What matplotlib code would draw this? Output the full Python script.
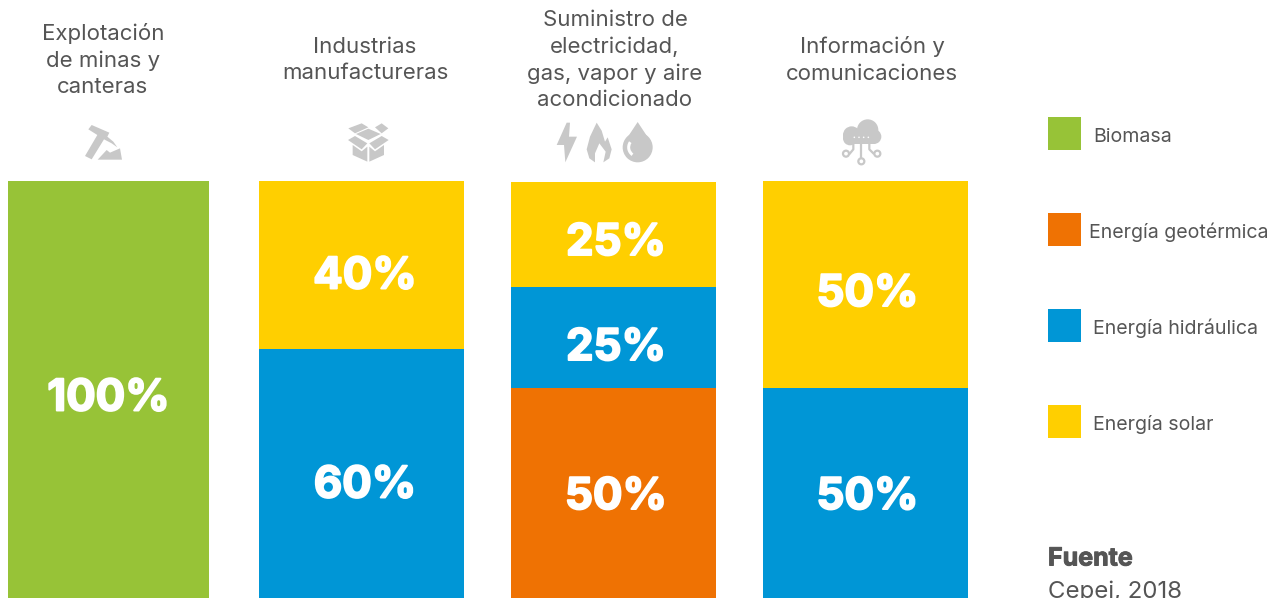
import matplotlib
matplotlib.use('Agg')
import matplotlib.pyplot as plt
import matplotlib.patheffects as pe
from matplotlib.patches import Polygon, Circle, Rectangle, Wedge
from matplotlib.lines import Line2D
from matplotlib.transforms import ScaledTranslation

W, H = 1280, 598
FONT = 'Inter'

sectors = ['Explotación\nde minas y\ncanteras', 'Industrias\nmanufactureras',
           'Suministro de\nelectricidad,\ngas, vapor y aire\nacondicionado',
           'Información y\ncomunicaciones']
sources = ['Biomasa', 'Energía geotérmica', 'Energía hidráulica', 'Energía solar']
colors = ['#97C337', '#EF7203', '#0096D6', '#FFCF00']

# segment heights, bottom to top (the original is not quite to scale)
biomasa = [100, 0, 0, 0]
geotermica = [0, 0, 50.7, 0]
hidraulica = [0, 60, 24.06, 50.7]
solar = [0, 40, 25, 49.3]
series = [biomasa, geotermica, hidraulica, solar]

# printed labels
lab_biomasa = ['100%', '', '', '']
lab_geotermica = ['', '', '50%', '']
lab_hidraulica = ['', '60%', '25%', '50%']
lab_solar = ['', '40%', '25%', '50%']
labels = [lab_biomasa, lab_geotermica, lab_hidraulica, lab_solar]

bar_left = [8, 259, 511, 763]
bar_width = [201, 205, 205, 205]

# nudges for the printed labels, px
dx_col = [0, 3.5, 2.5, 2]
dy_biomasa = [8, 0, 0, 0]
dy_geotermica = [0, 0, 3, 0]
dy_hidraulica = [0, 11, 11, 3]
dy_solar = [0, 12, 9, 10]
dys = [dy_biomasa, dy_geotermica, dy_hidraulica, dy_solar]

fig = plt.figure(figsize=(W / 100, H / 100), dpi=100)

# bars run below the bottom edge of the image, 0 sits at y=601 px and 100 at y=181 px
ax = fig.add_axes([0, (H - 601) / H, 1, 420 / H])
ax.set_xlim(0, W)
ax.set_ylim(0, 100)
ax.axis('off')

bottom = [0, 0, 0, 0]
for vals, labs, col, dy in zip(series, labels, colors, dys):
    for i in range(len(vals)):
        if vals[i] == 0:
            continue
        ax.bar(bar_left[i], vals[i], width=bar_width[i], bottom=bottom[i], align='edge', color=col, linewidth=0)
        shift = ScaledTranslation(dx_col[i] / 100, -dy[i] / 100, fig.dpi_scale_trans)
        t = ax.text(bar_left[i] + bar_width[i] / 2, bottom[i] + vals[i] / 2, labs[i], color='white', fontsize=31.5,
                    fontweight='bold', family=FONT, ha='center', va='center', transform=ax.transData + shift)
        t.set_path_effects([pe.withStroke(linewidth=1.4, foreground='white')])
        bottom[i] += vals[i]

# overlay in pixel coordinates for titles, icons and legend
ov = fig.add_axes([0, 0, 1, 1])
ov.set_xlim(0, W)
ov.set_ylim(H, 0)
ov.axis('off')
ov.patch.set_alpha(0)

TXT = '#555555'
GREY = '#C8C8C8'
centers = [103, 365, 615, 872]
for c, s in zip(centers, sectors):
    ov.text(c, 60, s, ha='center', va='center', fontsize=16, color=TXT, family=FONT, linespacing=1.4)


def poly(pts, ox, oy, col=GREY):
    ov.add_patch(Polygon([(ox + x / 3, oy + y / 3) for x, y in pts], closed=True, fc=col, ec='none'))


# pick and mountain
poly([(95, 45), (148, 68), (142, 80), (160, 95), (172, 112), (155, 100), (132, 88), (95, 148), (75, 138), (112, 75), (85, 58)], 60, 110)
poly([(113, 149), (140, 120), (150, 128), (180, 115), (186, 149)], 60, 110)
# box
poly([(865, 55), (905, 40), (925, 52), (885, 70)], 60, 110)
poly([(985, 55), (965, 40), (945, 52), (965, 70)], 60, 110)
poly([(888, 72), (925, 56), (962, 72), (925, 90)], 60, 110)
poly([(864, 90), (885, 78), (922, 100), (905, 118)], 60, 110)
poly([(986, 90), (965, 78), (928, 100), (945, 118)], 60, 110)
poly([(878, 105), (905, 124), (922, 110), (922, 155), (878, 135)], 60, 110)
poly([(972, 105), (945, 124), (928, 110), (928, 155), (972, 135)], 60, 110)
# lightning
poly([(80, 38), (50, 105), (72, 105), (76, 157), (111, 80), (87, 80), (90, 38)], 540, 110)
# flame
poly([(170, 38), (185, 62), (195, 95), (203, 82), (215, 118), (208, 145), (190, 157), (197, 125), (178, 100),
      (165, 130), (165, 157), (148, 145), (140, 118), (150, 80)], 540, 110)
# drop
poly([(293, 36), (254, 95), (332, 95)], 540, 110)
ov.add_patch(Circle((540 + 293 / 3, 110 + 112 / 3), 15, fc=GREY, ec='none'))
ov.add_patch(Wedge((540 + 293 / 3, 110 + 112 / 3), 10.5, 125, 215, width=3, fc='white', ec='none'))
# cloud
cloud = [(935, 75, 26), (983, 60, 32), (1002, 80, 22), (930, 85, 21)]
for cx, cy, r in cloud:
    ov.add_patch(Circle((540 + cx / 3, 110 + cy / 3), r / 3, fc=GREY, ec='none'))
ov.add_patch(Rectangle((540 + 925 / 3, 110 + 65 / 3), 80 / 3, 36 / 3, fc=GREY, ec='none'))
for dx in [943, 957, 971, 985]:
    ov.add_patch(Circle((540 + dx / 3, 110 + 82 / 3), 0.8, fc='white', ec='none'))
for path in [[(963, 100), (963, 142)], [(940, 100), (940, 118), (930, 130)], [(988, 100), (988, 118), (1000, 130)]]:
    ov.add_line(Line2D([540 + x / 3 for x, y in path], [110 + y / 3 for x, y in path], color=GREY, lw=1.6))
for cx, cy in [(918, 131), (1012, 131), (964, 154)]:
    ov.add_patch(Circle((540 + cx / 3, 110 + cy / 3), 3, fc='white', ec=GREY, lw=1.6))

# legend
leg_y = [117, 213, 309, 405]
leg_x = [1093, 1089, 1093, 1093]
for y, x, s, col in zip(leg_y, leg_x, sources, colors):
    ov.add_patch(Rectangle((1048, y), 33, 33, fc=col, ec='none'))
    ov.text(x, y + 19.5, s, ha='left', va='center', fontsize=14.1, color=TXT, family=FONT)

f = ov.text(1048, 559, 'Fuente', ha='left', va='center', fontsize=18, fontweight='bold', color=TXT, family=FONT)
f.set_path_effects([pe.withStroke(linewidth=0.7, foreground=TXT)])
ov.text(1048, 592, 'Cepei, 2018', ha='left', va='center', fontsize=17.3, color=TXT, family=FONT)

fig.savefig('out.png', dpi=100)
